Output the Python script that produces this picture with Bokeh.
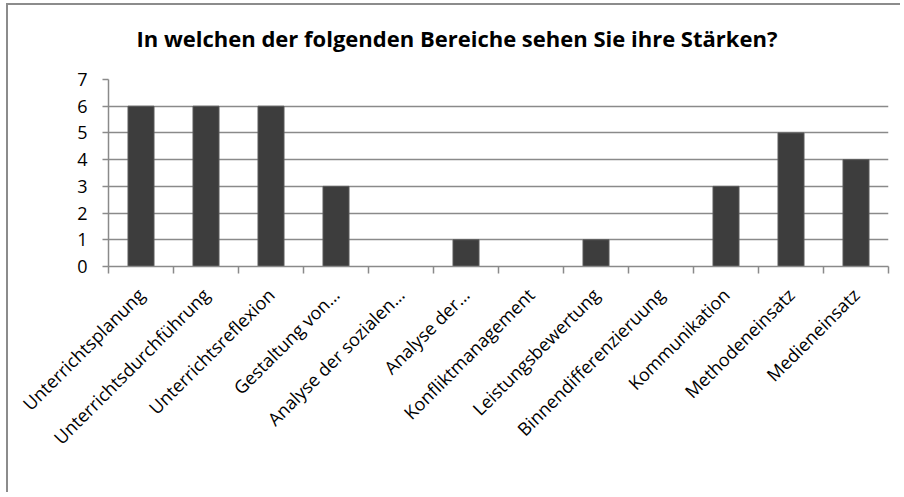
import math
from bokeh.plotting import figure
from bokeh.models import Range1d, FixedTicker, Title
from bokeh.embed import file_html
from bokeh.resources import INLINE

title_text = "In welchen der folgenden Bereiche sehen Sie ihre Stärken?"
categories = ["Unterrichtsplanung", "Unterrichtsdurchführung", "Unterrichtsreflexion",
              "Gestaltung von…", "Analyse der sozialen…", "Analyse der…",
              "Konfliktmanagement", "Leistungsbewertung", "Binnendifferenzieruung",
              "Kommunikation", "Methodeneinsatz", "Medieneinsatz"]
values = [6, 6, 6, 3, 0, 1, 0, 1, 0, 3, 5, 4]
y_ticks = [0, 1, 2, 3, 4, 5, 6, 7]

n = len(categories)
centers = [i + 0.5 for i in range(n)]
bounds = list(range(n + 1))

FONT = "Open Sans"
GRID = "#8a8a8a"

p = figure(width=894, height=489, output_backend="svg", toolbar_location=None,
           x_range=Range1d(0, n), y_range=Range1d(0, 7),
           min_border_left=100, min_border_right=14, min_border_top=74,
           min_border_bottom=228)
p.styles = {"border-left": "2px solid #8c8c8c", "border-top": "2px solid #8c8c8c",
            "margin-left": "6px", "margin-top": "3px"}

# spacer between title and plot area, then the title itself
p.add_layout(Title(text=" ", text_font_size="9px"), "above")
p.add_layout(Title(text=title_text, text_font=FONT, text_font_size="22px",
                   text_font_style="bold", text_color="#000000",
                   align="left", offset=28), "above")

p.vbar(x=centers, top=values, width=0.4, bottom=0,
       fill_color="#3d3d3d", line_color="#5a5a5a", line_width=1)

p.outline_line_color = None
p.xgrid.grid_line_color = None
p.ygrid.ticker = FixedTicker(ticks=y_ticks)
p.ygrid.grid_line_color = GRID
p.ygrid.grid_line_width = 1.5

# x axis
xa = p.xaxis[0]
xa.ticker = FixedTicker(ticks=centers, minor_ticks=bounds)
xa.major_label_overrides = {c: lab for c, lab in zip(centers, categories)}
xa.major_label_orientation = math.pi / 4
xa.major_tick_out = 0
xa.major_tick_in = 0
xa.minor_tick_out = 7
xa.minor_tick_in = 0
xa.minor_tick_line_color = GRID
xa.minor_tick_line_width = 1.5
xa.axis_line_color = GRID
xa.axis_line_width = 1.5
xa.major_label_standoff = 18
xa.major_label_text_font = FONT
xa.major_label_text_font_size = "18px"
xa.major_label_text_color = "#000000"

# y axis
ya = p.yaxis[0]
ya.ticker = FixedTicker(ticks=y_ticks)
ya.major_tick_out = 6
ya.major_tick_in = 0
ya.minor_tick_line_color = None
ya.major_tick_line_color = GRID
ya.major_tick_line_width = 1.5
ya.axis_line_color = GRID
ya.axis_line_width = 1.5
ya.major_label_standoff = 15
ya.major_label_text_font = FONT
ya.major_label_text_font_size = "18px"
ya.major_label_text_color = "#000000"

open("out.html", "w").write(file_html(p, INLINE))
